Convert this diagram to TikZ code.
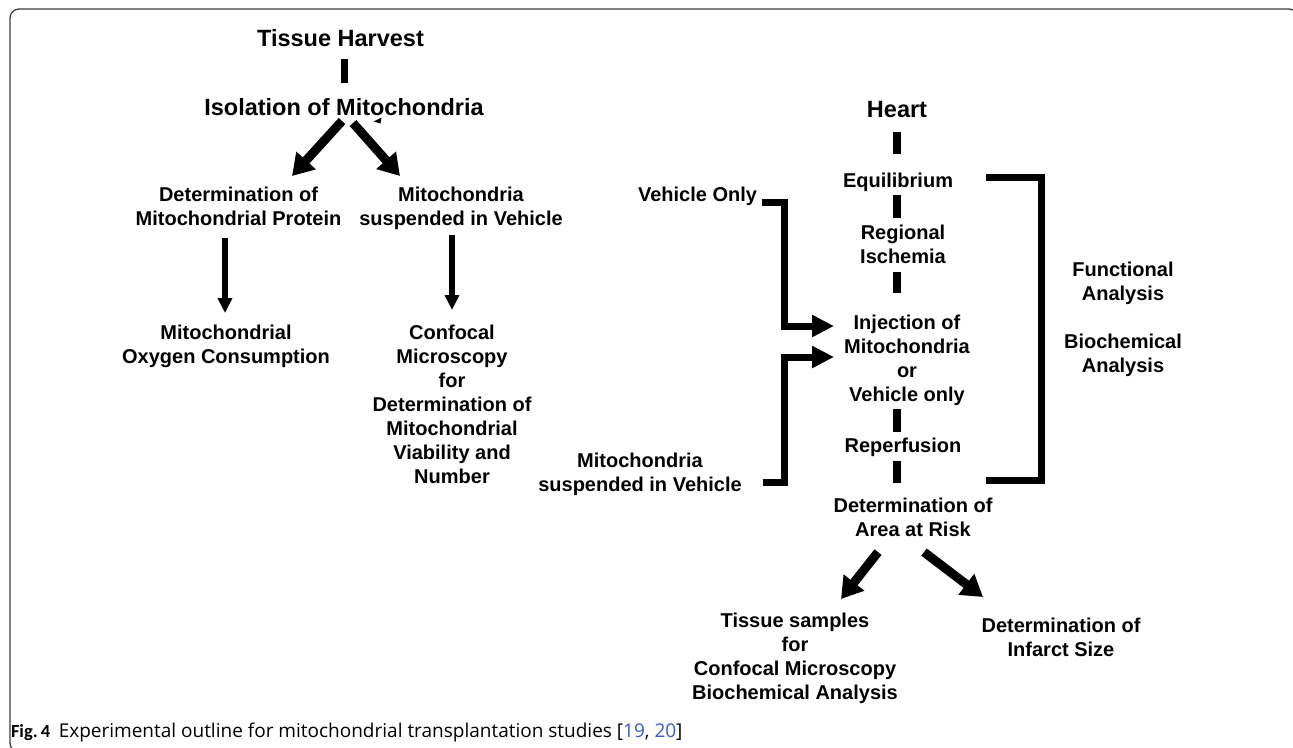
\documentclass[tikz,border=0pt]{standalone}
\usepackage{fontspec}
\setmainfont{Liberation Sans}
\newfontfamily\capbold{Carlito}
\newfontfamily\capfont{Open Sans}
\usetikzlibrary{arrows.meta}
\definecolor{linkblue}{RGB}{60,90,200}
\definecolor{framegray}{RGB}{60,60,60}
\begin{document}
\begin{tikzpicture}[x=1pt,y=-1pt,
  every node/.style={inner sep=0pt, outer sep=0pt, align=center, font=\bfseries\fontsize{20}{24}\selectfont},
  big/.style={font=\bfseries\fontsize{23.5}{28}\selectfont},
  bar/.style={line width=7.5pt},
  thinarrow/.style={line width=6pt, -{Triangle[width=14pt,length=15pt]}},
  fatarrow/.style={line width=9pt, -{Triangle[width=25pt,length=21pt]}},
  brk/.style={line width=7pt, line join=miter},
  brkarrow/.style={brk, -{Triangle[width=21pt,length=22pt]}},
]
\clip (0,0) rectangle (1293,747);
\fill[white] (0,0) rectangle (1293,747);
\draw[line width=1.3pt, framegray, rounded corners=9pt] (10,9) rectangle (1298,752);

% ---------- left flow ----------
\node[big, anchor=base] (tissue) at (340.5,46) {Tissue Harvest};
\node[big, anchor=base] (iso) at (344,115) {Isolation of Mitochondria};
\node[anchor=north] (detprot) at (238.5,187.4) {Determination of\\Mitochondrial Protein};
\node[anchor=north] (mitosusp) at (461,187.4) {Mitochondria\\suspended in Vehicle};
\node[anchor=north] (oxy) at (226,325.4) {Mitochondrial\\Oxygen Consumption};
\node[anchor=north] (confocal) at (452,325.4) {Confocal\\Microscopy\\for\\Determination of\\Mitochondrial\\Viability and\\Number};

\draw[bar] (tissue.base -| iso.base) ++(0.5,13) -- ++(0,24);
\draw[fatarrow] ([shift={(-2,6)}]iso.base) -- ([shift={(53.5,-11.4)}]detprot.north);
\draw[fatarrow] ([shift={(9,8)}]iso.base) -- ([shift={(-61,-11.4)}]mitosusp.north);
\fill (373.5,121.5) -- (381.5,117.5) -- (380.5,123.5) -- cycle;
\draw[thinarrow] ([shift={(-13.5,12)}]detprot.south) -- ([shift={(-1,-12.4)}]oxy.north);
\draw[thinarrow] ([shift={(-9,4.8)}]mitosusp.south) -- ([shift={(0,-15.4)}]confocal.north);

% ---------- right flow ----------
\node[big, anchor=base] (heart) at (897,117) {Heart};
\node[anchor=base] (equil) at (898,187) {Equilibrium};
\node[anchor=north] (regional) at (903,225.4) {Regional\\Ischemia};
\node[anchor=north] (inj) at (907,315.4) {Injection of\\Mitochondria\\or\\Vehicle only};
\node[anchor=base] (reperf) at (903,452) {Reperfusion};
\node[anchor=north] (dar) at (913,498.4) {Determination of\\Area at Risk};
\node[anchor=north] (tsamp) at (795,613.4) {Tissue samples\\for\\Confocal Microscopy\\Biochemical Analysis};
\node[anchor=north] (infarct) at (1061,618.4) {Determination of\\Infarct Size};

\node[anchor=base east] (vehonly) at (757,201) {Vehicle Only};
\node[anchor=north] (mitosusp2) at (640,453.4) {Mitochondria\\suspended in Vehicle};
\node[anchor=north] (func) at (1123,262.4) {Functional\\Analysis};
\node[anchor=north] (bioch) at (1123,334.4) {Biochemical\\Analysis};

\draw[bar] (heart.base) ++(0,15) -- ++(0,22);
\draw[bar] (equil.base) ++(-1,8) -- ++(0,23);
\draw[bar] (regional.south -| equil.base) ++(-1,8) -- ++(0,21);
\draw[bar] (reperf.base -| equil.base) ++(-1,-43) -- ++(0,23);
\draw[bar] (reperf.base -| equil.base) ++(-1,9) -- ++(0,22);

\draw[brkarrow] ([shift={(5,1)}]vehonly.base east) -- ++(22,0) |- ([shift={(-73,10.6)}]inj.north);
\draw[brkarrow] ([shift={(21,-13.2)}]mitosusp2.south east) -- ++(22,0) |- ([shift={(-73,41.6)}]inj.north);
\draw[brk] ([shift={(88,-10)}]equil.base) -- ++(55,0) -- ++(0,303) -- ++(-55,0);

\draw[fatarrow] ([shift={(-35,15)}]dar.south) -- ([shift={(46,-14.4)}]tsamp.north);
\draw[fatarrow] ([shift={(11,15)}]dar.south) -- ([shift={(-78,-21.4)}]infarct.north);

% ---------- caption ----------
\node[anchor=base west, font=\capfont\fontsize{19}{22}\selectfont] (caption) at (11,737)
  {{\capbold\bfseries\fontsize{18.5}{22}\selectfont Fig.\,4}\hspace{0.45em}Experimental outline for mitochondrial transplantation studies [\textcolor{linkblue}{19}, \textcolor{linkblue}{20}]};
\end{tikzpicture}
\end{document}
